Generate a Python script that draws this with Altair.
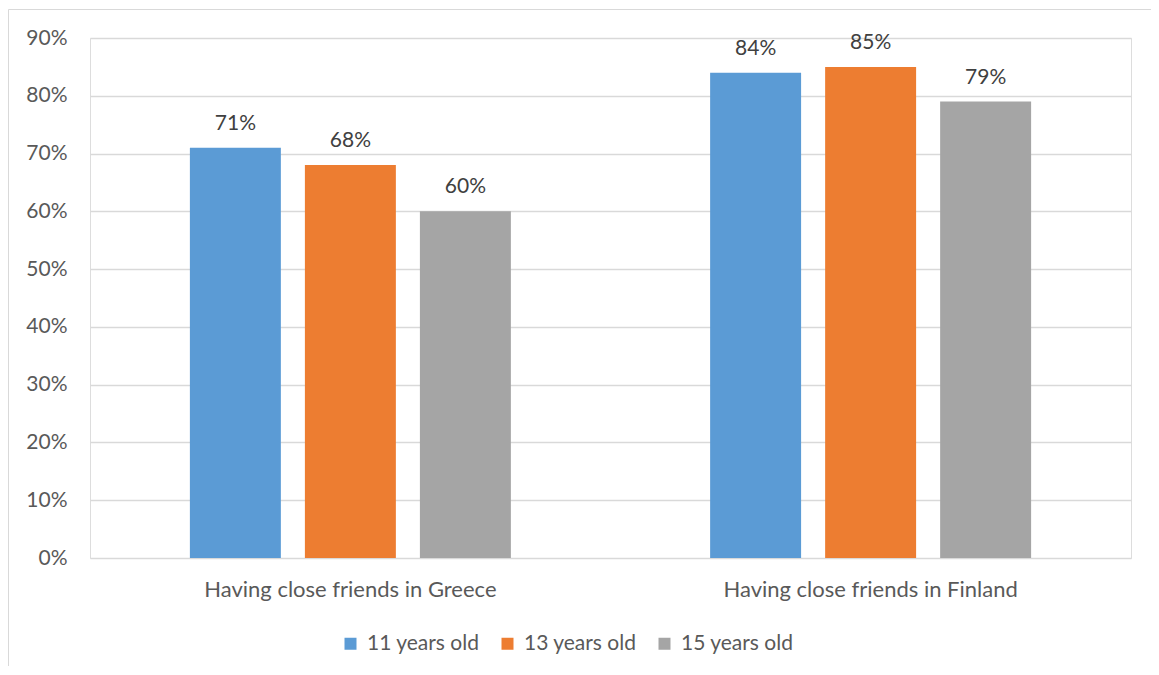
import altair as alt
import pandas as pd

categories = ["Having close friends in Greece", "Having close friends in Finland"]
groups = ["11 years old", "13 years old", "15 years old"]
greece = [0.71, 0.68, 0.60]
finland = [0.84, 0.85, 0.79]
colors = ["#5B9BD5", "#ED7D31", "#A5A5A5"]
y_ticks = [0, 0.1, 0.2, 0.3, 0.4, 0.5, 0.6, 0.7, 0.8, 0.9]

rows = []
for cat, vals in zip(categories, [greece, finland]):
    for g, v in zip(groups, vals):
        rows.append({"category": cat, "group": g, "value": v})
df = pd.DataFrame(rows)

FONT = "Lato"
TXT = "#595959"

x_enc = alt.X("category:N", sort=categories, title=None,
              scale=alt.Scale(paddingInner=0.383, paddingOuter=0.192),
              axis=alt.Axis(labelAngle=0, domain=False, ticks=False, labelPadding=21,
                            labelLimit=0, labelFont=FONT, labelFontSize=22,
                            labelColor=TXT))
xo_enc = alt.XOffset("group:N", sort=groups,
                     scale=alt.Scale(paddingInner=0.209, paddingOuter=0))
y_enc = alt.Y("value:Q", title=None,
              scale=alt.Scale(domain=[0, 0.9], nice=False),
              axis=alt.Axis(values=y_ticks, format=".0%", domain=False, ticks=False,
                            labelPadding=23, labelFont=FONT, labelFontSize=21,
                            labelColor=TXT, gridColor="#D9D9D9", gridWidth=1.3))

base = alt.Chart(df)

bars = base.mark_bar().encode(
    x=x_enc, xOffset=xo_enc, y=y_enc,
    color=alt.Color("group:N", sort=groups, title=None,
                    scale=alt.Scale(domain=groups, range=colors),
                    legend=alt.Legend(orient="none", direction="horizontal",
                                      legendX=250, legendY=595, padding=0,
                                      symbolType="square", symbolSize=144,
                                      symbolStrokeWidth=0, labelOffset=6,
                                      columnPadding=17, labelFont=FONT,
                                      labelFontSize=21, labelColor=TXT)),
)

labels = base.mark_text(baseline="alphabetic", dy=-18, font=FONT, fontSize=21,
                        color="#404040").encode(
    x=alt.X("category:N", sort=categories),
    xOffset=alt.XOffset("group:N", sort=groups),
    y="value:Q",
    text=alt.Text("value:Q", format=".0%"),
)

one = pd.DataFrame({"f": [0]})
frame_left = alt.Chart(one).mark_rule(color="#D9D9D9", strokeWidth=1, clip=False).encode(
    x=alt.value(-81.5), y=alt.value(-28.5), y2=alt.value(800)
)
frame_top = alt.Chart(one).mark_rule(color="#D9D9D9", strokeWidth=1, clip=False).encode(
    x=alt.value(-81.5), x2=alt.value(1300), y=alt.value(-28.5)
)

chart = alt.layer(frame_left, frame_top, bars, labels).properties(
    width=1041, height=520,
    autosize=alt.AutoSizeParams(type="none"),
    padding={"left": 82, "top": 30, "right": 20, "bottom": 108},
).configure_view(stroke=None).configure(background="white")

chart.save("out.html", embed_options={"renderer": "svg", "actions": False})
